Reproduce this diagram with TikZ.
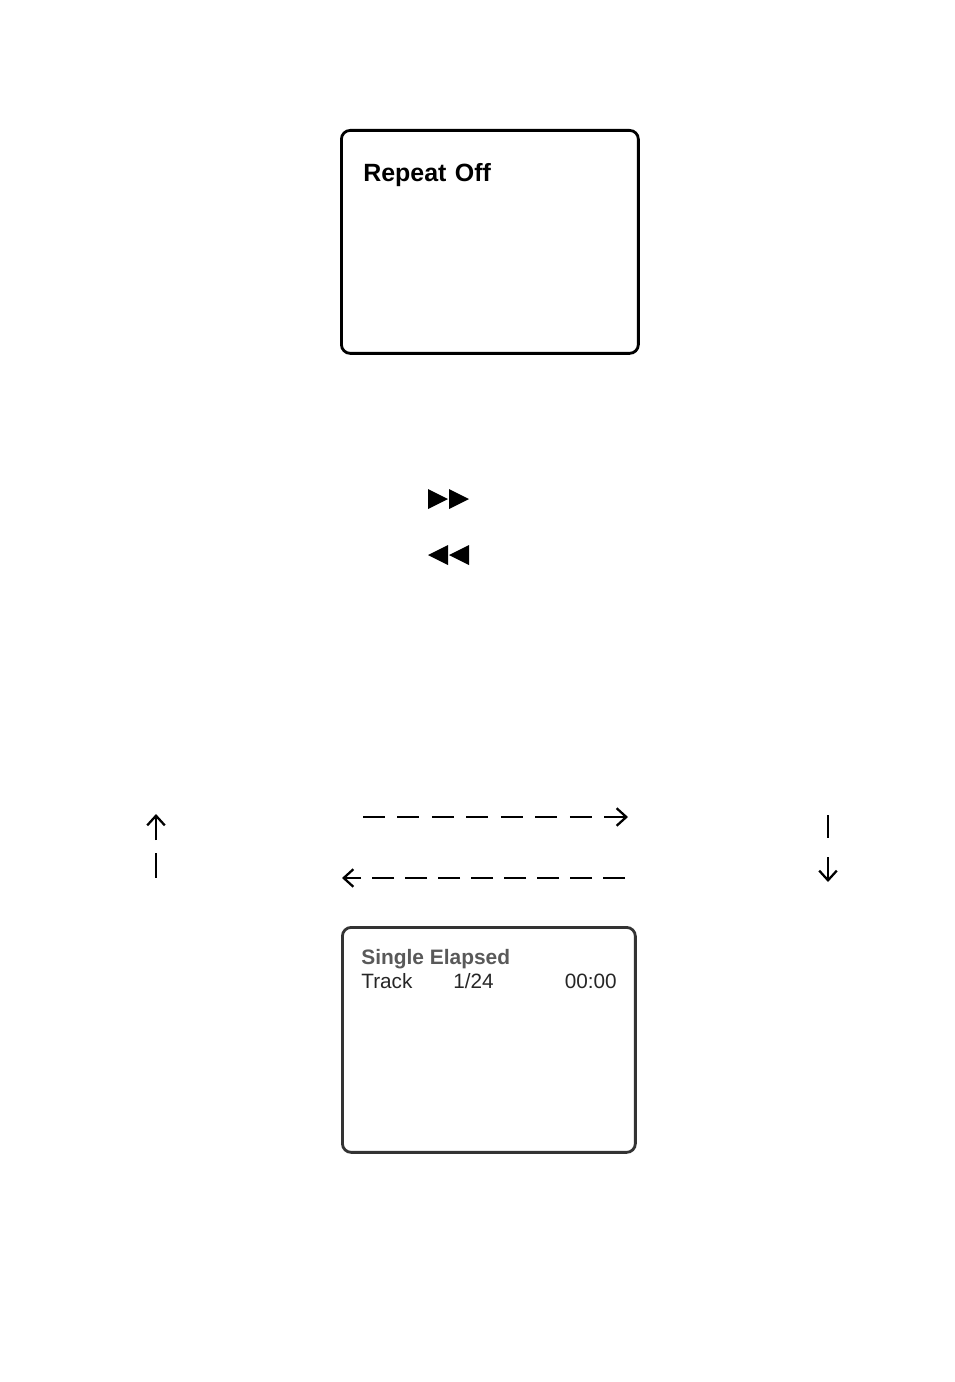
\documentclass[tikz,border=0pt]{standalone}
\usepackage{fontspec}
\setmainfont{Liberation Sans}
\usetikzlibrary{arrows.meta, positioning}

\tikzset{
  screen/.style = {draw, line width = 1.6pt, rounded corners = 5pt, anchor = north west, inner sep = 0pt},
  flow/.style = {line width = 1.3pt, -{Straight Barb[length = 5.5pt, width = 10pt]}},
  bar/.style = {line width = 1.2pt},
  tri/.style = {fill = black}
}

\begin{document}
\begin{tikzpicture}[x = 0.02cm, y = -0.02cm]
\useasboundingbox (0,0) rectangle (954,1382);
% repeat off screen
\node [screen, minimum width = 5.94cm, minimum height = 4.46cm] (top) at (340,129) {};
\node [anchor = base west, font = \fontsize{14.2}{16}\selectfont\bfseries, inner sep = 0pt] (rep) at (363,182) {Repeat\,\,Off};
% ff and rew keys
\coordinate (ff) at (428,499);
\coordinate (rew) at (469,555);
\fill [tri] (ff) ++(0,-10) -- ++(20,10) -- ++(-20,10) -- cycle;
\fill [tri] (ff) ++(21,-10) -- ++(20,10) -- ++(-20,10) -- cycle;
\fill [tri] (rew) ++(0,-10) -- ++(-20,10) -- ++(20,10) -- cycle;
\fill [tri] (rew) ++(-21,-10) -- ++(-20,10) -- ++(20,10) -- cycle;
% loop arrows
\coordinate (la) at (156,840);
\coordinate (lb) at (156,814);
\coordinate (lc) at (156,853);
\coordinate (ld) at (156,878);
\coordinate (ra) at (828,815);
\coordinate (rb) at (828,838);
\coordinate (rc) at (828,857);
\coordinate (rd) at (828,882);
\coordinate (fa) at (363,817);
\coordinate (fb) at (628,817);
\coordinate (ba) at (625,878);
\coordinate (bb) at (342,878);
\draw [flow] (la) -- (lb);
\draw [bar] (lc) -- (ld);
\draw [bar] (ra) -- (rb);
\draw [flow] (rc) -- (rd);
\draw [flow, dash pattern = on 0.44cm off 0.25cm] (fa) -- (fb);
\draw [flow, dash pattern = on 0.44cm off 0.22cm] (ba) -- (bb);
% track screen
\node [screen, draw = black!80, minimum width = 5.86cm, minimum height = 4.5cm] (bot) at (341,926) {};
\node [anchor = base west, font = \fontsize{11.9}{14}\selectfont\bfseries, text = black!65, inner sep = 0pt] (mode) at (361,964) {Single Elapsed};
\node [anchor = base west, font = \fontsize{11.8}{14}\selectfont, text = black!85, inner sep = 0pt] (trk) at (361,988) {Track};
\node [anchor = base west, font = \fontsize{11.8}{14}\selectfont, text = black!85, inner sep = 0pt] (num) at (453,988) {1/24};
\node [anchor = base east, font = \fontsize{11.8}{14}\selectfont, text = black!85, inner sep = 0pt] (time) at (617,988) {00:00};
\end{tikzpicture}
\end{document}
